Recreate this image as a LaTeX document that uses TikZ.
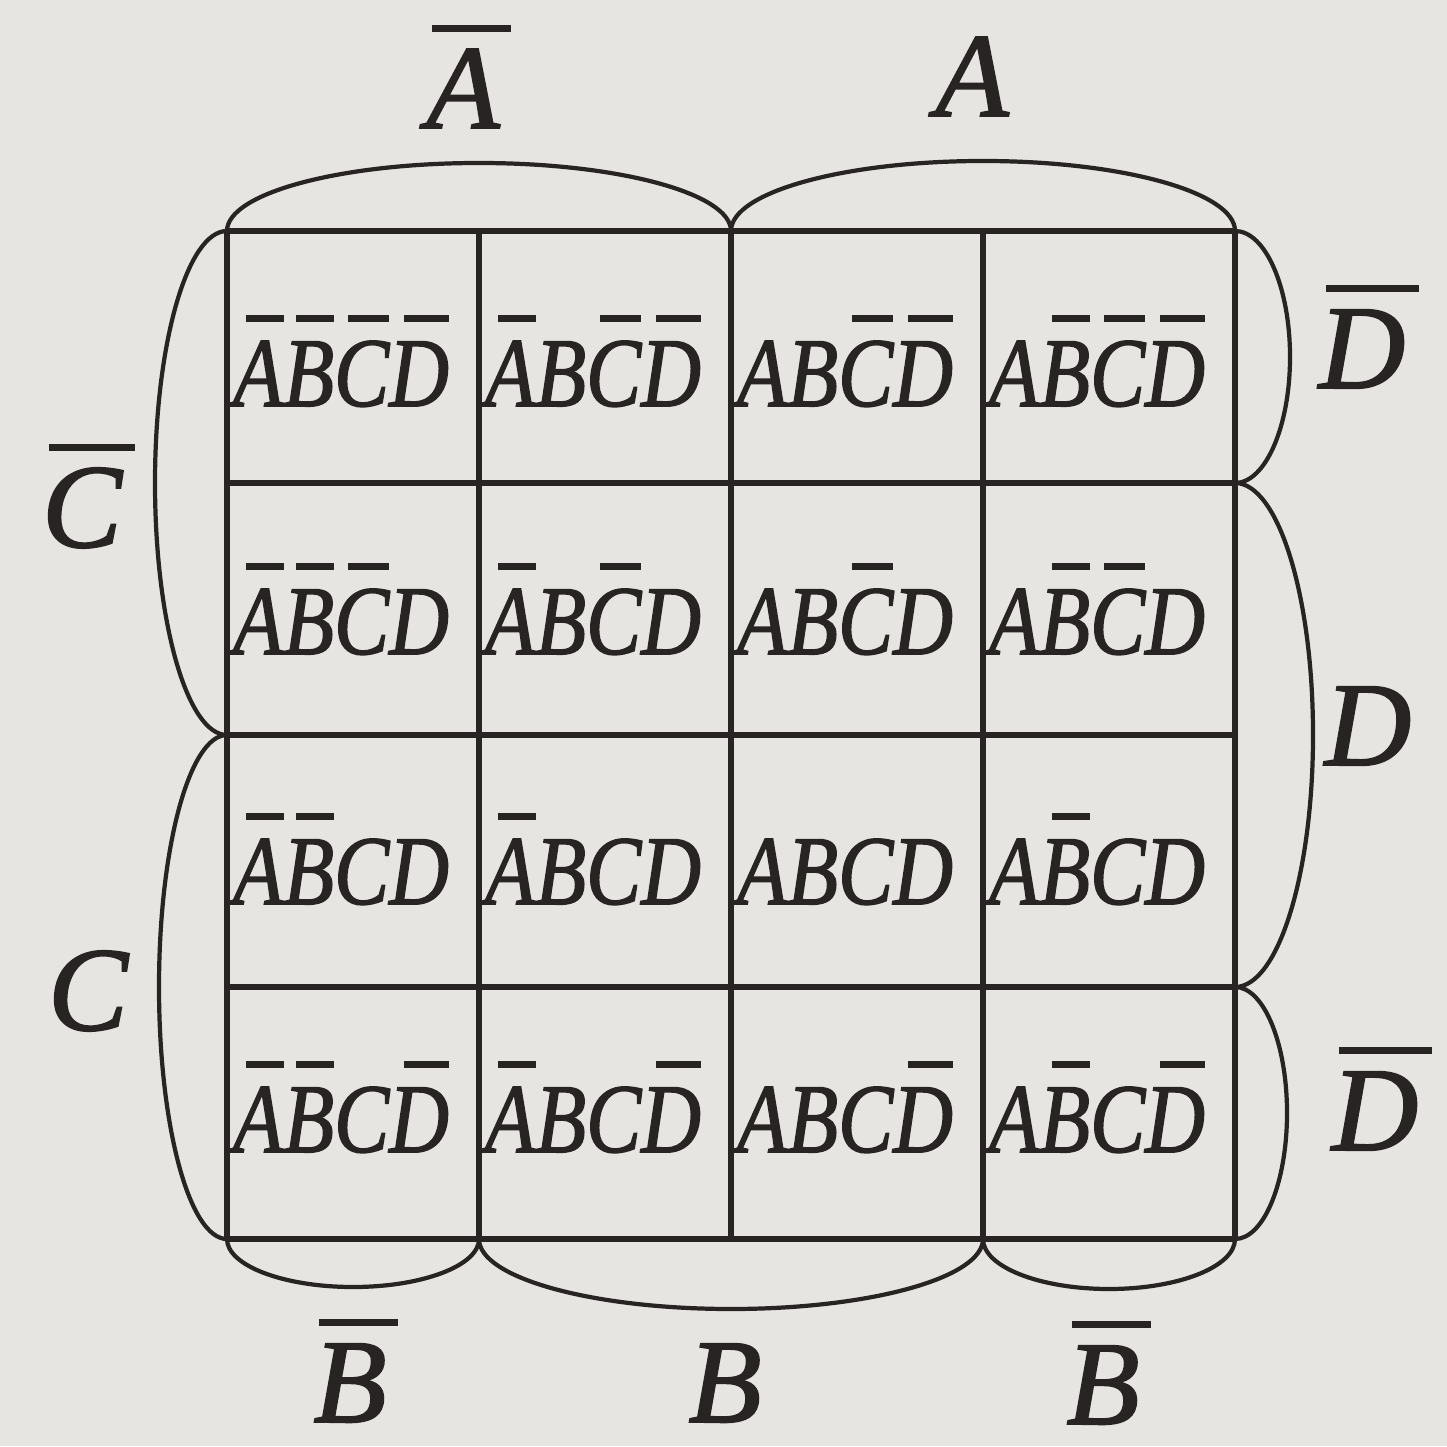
\documentclass[tikz,border=0pt]{standalone}
\usepackage{fontspec}
\usepackage{graphicx}
\setmainfont{Liberation Serif}[ItalicFeatures={FakeBold=1.6}]
\definecolor{paper}{RGB}{230,229,225}
\definecolor{ink}{RGB}{40,36,36}
% bar over one letter inside a cell
\newcommand{\nb}[1]{\setbox0=\hbox{#1}\rlap{\hspace{0.25\wd0}\rule[0.85em]{0.75\wd0}{0.075em}}\box0}
% bar over an outer label
\newcommand{\nbo}[1]{\setbox0=\hbox{#1}\rlap{\hspace{0.08\wd0}\rule[0.8em]{1.08\wd0}{0.065em}}\box0}
\newcommand{\cellt}[1]{\scalebox{0.84}[1]{#1}}
\tikzset{
  gridline/.style={draw=ink, line width=1.6pt},
  arcline/.style={draw=ink, line width=1.2pt},
  celltext/.style={anchor=base, inner sep=0pt, text=ink, font=\fontsize{28}{30}\selectfont\itshape},
  outer/.style={anchor=base, inner sep=0pt, text=ink, font=\fontsize{34}{36}\selectfont\itshape}
}
\begin{document}
\begin{tikzpicture}
\fill[paper] (0,0) rectangle (14.47,14.46);
\useasboundingbox (0,0) rectangle (14.47,14.46);
% grid corner coordinates
\foreach \i/\x in {0/2.27,1/4.79,2/7.31,3/9.83,4/12.35}{
  \foreach \j/\y in {0/2.07,1/4.59,2/7.11,3/9.63,4/12.15}{
    \coordinate (g\i\j) at (\x,\y);
  }
}
% grid
\foreach \k in {0,...,4}{
  \draw[gridline] (g\k0) -- (g\k4);
  \draw[gridline] (g0\k) -- (g4\k);
}
% arcs top
\draw[arcline] (g04) arc[start angle=180, end angle=0, x radius=2.52cm, y radius=0.68cm];
\draw[arcline] (g24) arc[start angle=180, end angle=0, x radius=2.52cm, y radius=0.70cm];
% arcs right
\draw[arcline] (g44) arc[start angle=90, end angle=-90, x radius=0.55cm, y radius=1.26cm];
\draw[arcline] (g43) arc[start angle=90, end angle=-90, x radius=0.78cm, y radius=2.52cm];
\draw[arcline] (g41) arc[start angle=90, end angle=-90, x radius=0.52cm, y radius=1.26cm];
% arcs bottom
\draw[arcline] (g00) arc[start angle=180, end angle=360, x radius=1.26cm, y radius=0.48cm];
\draw[arcline] (g10) arc[start angle=180, end angle=360, x radius=2.52cm, y radius=0.70cm];
\draw[arcline] (g30) arc[start angle=180, end angle=360, x radius=1.26cm, y radius=0.50cm];
% arcs left
\draw[arcline] (g04) arc[start angle=90, end angle=270, x radius=0.72cm, y radius=2.52cm];
\draw[arcline] (g02) arc[start angle=90, end angle=270, x radius=0.68cm, y radius=2.52cm];
% cell texts
% row 1
\node[celltext] (c11) at (3.41,10.40) {\cellt{\nb{A}\nb{B}\nb{C}\nb{D}}};
\node[celltext] (c12) at (5.93,10.40) {\cellt{\nb{A}B\nb{C}\nb{D}}};
\node[celltext] (c13) at (8.45,10.40) {\cellt{AB\nb{C}\nb{D}}};
\node[celltext] (c14) at (10.97,10.40) {\cellt{A\nb{B}\nb{C}\nb{D}}};
% row 2
\node[celltext] (c21) at (3.41,7.92) {\cellt{\nb{A}\nb{B}\nb{C}D}};
\node[celltext] (c22) at (5.93,7.92) {\cellt{\nb{A}B\nb{C}D}};
\node[celltext] (c23) at (8.45,7.92) {\cellt{AB\nb{C}D}};
\node[celltext] (c24) at (10.97,7.92) {\cellt{A\nb{B}\nb{C}D}};
% row 3
\node[celltext] (c31) at (3.41,5.42) {\cellt{\nb{A}\nb{B}CD}};
\node[celltext] (c32) at (5.93,5.42) {\cellt{\nb{A}BCD}};
\node[celltext] (c33) at (8.45,5.42) {\cellt{ABCD}};
\node[celltext] (c34) at (10.97,5.42) {\cellt{A\nb{B}CD}};
% row 4
\node[celltext] (c41) at (3.41,2.94) {\cellt{\nb{A}\nb{B}C\nb{D}}};
\node[celltext] (c42) at (5.93,2.94) {\cellt{\nb{A}BC\nb{D}}};
\node[celltext] (c43) at (8.45,2.94) {\cellt{ABC\nb{D}}};
\node[celltext] (c44) at (10.97,2.94) {\cellt{A\nb{B}C\nb{D}}};
% outer labels
\node[outer] (lAn) at (4.63,13.18) {\nbo{A}};
\node[outer] (lA) at (9.72,13.30) {A};
\node[outer] (lDn1) at (13.62,10.58) {\nbo{D}};
\node[outer] (lD) at (13.68,6.81) {D};
\node[outer] (lDn2) at (13.75,2.96) {\nbo{D}};
\node[outer] (lCn) at (0.82,8.99) {\nbo{C}};
\node[outer] (lC) at (0.88,4.16) {C};
\node[outer] (lBn1) at (3.50,0.24) {\nbo{B}};
\node[outer] (lB) at (7.25,0.24) {B};
\node[outer] (lBn2) at (11.03,0.22) {\nbo{B}};
\end{tikzpicture}
\end{document}
